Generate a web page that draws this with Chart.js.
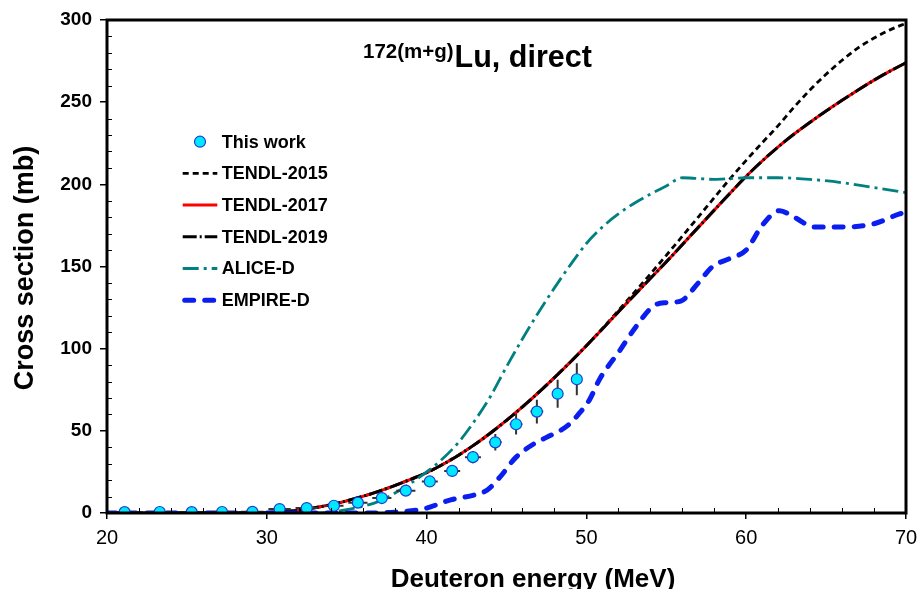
<!DOCTYPE html>
<html><head><meta charset="utf-8">
<style>html,body{margin:0;padding:0;background:#fff;} canvas{display:block;}</style>
<script src="https://cdn.jsdelivr.net/npm/chart.js@4.4.1/dist/chart.umd.min.js"></script>
</head><body>
<canvas id="c" width="917" height="589"></canvas>
<script>
// ---- Data ----
const expEnergy    = [21.1,23.3,25.3,27.2,29.1,30.8,32.5,34.2,35.7,37.2,38.7,40.2,41.6,42.9,44.3,45.6,46.9,48.2,49.4];
const expXS        = [0.5,0.6,0.5,0.6,0.7,2.4,3.0,4.4,6.3,9.1,13.6,19.2,25.6,34,43,54,61.7,72.6,81.4];
const expXSErr     = [0.3,0.3,0.3,0.3,0.3,0.5,0.6,0.8,1.0,1.3,1.7,2.2,3.0,3.8,5.0,6.2,7.2,8.5,9.7];
const expEnergyErr = [0.9,0.9,0.8,0.8,0.7,0.7,0.7,0.6,0.6,0.6,0.6,0.5,0.5,0.5,0.4,0.4,0.4,0.3,0.3];

const tendlEnergy = [20,21,22,23,24,25,26,27,28,29,30,31,32,33,34,35,36,37,38,39,40,41,42,43,44,45,46,47,48,49,50,51,52,53,54,55,56,57,58,59,60,61,62,63,64,65,66,67,68,69,70];
const tendl2017 = [0,0,0,0,0,0,0,0,0,0.1,0.3,0.8,1.6,3.2,5.0,7.4,10.1,13.2,16.7,20.5,24.5,29.5,35.2,41.6,48.7,56.4,64.6,73.3,82.4,91.9,101.8,112,122.4,132.6,142.7,152.8,163.3,173.8,184.3,194.7,204.9,214.2,222.8,230.6,237.8,244.6,251.1,257.4,263.4,268.9,274];
const tendl2019 = [0,0,0,0,0,0,0,0,0,0.1,0.3,0.8,1.6,3.2,5.0,7.4,10.1,13.2,16.7,20.5,24.5,29.5,35.2,41.6,48.7,56.4,64.6,73.3,82.4,91.9,101.8,112,122.4,132.6,142.7,152.8,163.3,173.8,184.3,194.7,204.9,214.2,222.8,230.6,237.8,244.6,251.1,257.4,263.4,268.9,274];
const tendl2015 = [0,0,0,0,0,0,0,0,0,0.1,0.3,0.8,1.6,3.2,5.0,7.4,10.1,13.2,16.7,20.5,24.5,29.5,35.2,41.6,48.7,56.4,64.6,73.3,82.4,91.9,101.8,112.3,123.2,134.2,145.4,156.8,168.4,180.1,191.9,203.5,214.6,225.3,235.7,247,257.5,267,275.5,283,289,294,298];

const aliceEnergy = [20,30,33,34,35,36,37,38,39,40,41,42,43,44,45,46,47,48,49,50,51,52,53,54,55,56,57,58,59,60,62,64,66,68,70];
const aliceXS     = [0,0,0,0.5,2,4,7,12,18,25,33,43,56,71,89,106,122,137,151,164,174,182,188.5,194,199,204,203.5,203,203.5,204,204,203,201,198,195];

const empireEnergy = [20,36,38,39.4,40,41.5,43,43.8,44.6,45.6,46.7,47.5,48.8,49.5,50.2,50.8,52.1,53,54.2,55,55.9,57,57.9,59,60,61,62.1,63,64.3,66,68,69.6,70];
const empireXS     = [0,0,0.5,1.8,3,8,11,14,22,34,42,46,53,60,69,81,99,112,126,128,129,140,150,155,160,175,184,180,174,174,176,182,183];

const xTicks = [20,30,40,50,60,70];
const yTicks = [0,50,100,150,200,250,300];
const seriesNames = ['This work','TENDL-2015','TENDL-2017','TENDL-2019','ALICE-D','EMPIRE-D'];

const pts = (xs, ys) => xs.map((v,i)=>({x:v, y:ys[i]}));
const FONT = '"Liberation Sans", Arial, Helvetica, sans-serif';

const datasets = [
  {label:seriesNames[0], data:pts(expEnergy,expXS), showLine:false, pointRadius:5.5, pointBorderWidth:1.2,
   pointBackgroundColor:'#00e8ff', pointBorderColor:'#1f3fd0', order:0},
  {label:seriesNames[1], data:pts(tendlEnergy,tendl2015), borderColor:'#000', borderWidth:2.8, borderDash:[6,4], pointRadius:0, order:5},
  {label:seriesNames[2], data:pts(tendlEnergy,tendl2017), borderColor:'#ff0000', borderWidth:3, borderDash:[], pointRadius:0, order:4},
  {label:seriesNames[3], data:pts(tendlEnergy,tendl2019), borderColor:'#000', borderWidth:3, borderDash:[14,3,2,3], pointRadius:0, order:3},
  {label:seriesNames[4], data:pts(aliceEnergy,aliceXS), borderColor:'#008080', borderWidth:2.8, borderDash:[16,5,3,5], pointRadius:0, order:2},
  {label:seriesNames[5], data:pts(empireEnergy,empireXS), borderColor:'#0a1ef0', borderWidth:5, borderDash:[9,11], borderCapStyle:'round', pointRadius:0, order:1},
];
datasets.forEach(d=>{ if(d.showLine!==false){ d.showLine=true; d.cubicInterpolationMode='monotone'; d.fill=false; }});

const decor = {
  id:'decor',
  beforeDatasetDraw(chart, args){
    if(args.index!==0) return;
    const {ctx, scales:{x,y}} = chart;
    ctx.save();
    ctx.strokeStyle='#333'; ctx.lineWidth=2;
    ctx.beginPath();
    expEnergy.forEach((e,i)=>{
      const px=x.getPixelForValue(e), py=y.getPixelForValue(expXS[i]);
      ctx.moveTo(px, y.getPixelForValue(expXS[i]-expXSErr[i]));
      ctx.lineTo(px, y.getPixelForValue(expXS[i]+expXSErr[i]));
      ctx.moveTo(x.getPixelForValue(e-expEnergyErr[i]), py);
      ctx.lineTo(x.getPixelForValue(e+expEnergyErr[i]), py);
    });
    ctx.stroke();
    ctx.restore();
  },
  afterDraw(chart){
    const {ctx, chartArea:a, scales:{x,y}} = chart;
    ctx.save();
    // minor ticks inward
    ctx.strokeStyle='#000'; ctx.lineWidth=1;
    ctx.beginPath();
    for(let v=10; v<300; v+=10){ if(v%50===0) continue; const py=Math.round(y.getPixelForValue(v))+0.5; ctx.moveTo(a.left,py); ctx.lineTo(a.left+5,py); }
    for(let v=22; v<70; v+=2){ if(v%10===0) continue; const px=Math.round(x.getPixelForValue(v))+0.5; ctx.moveTo(px,a.bottom); ctx.lineTo(px,a.bottom-5); }
    ctx.stroke();
    // frame
    ctx.lineWidth=3; ctx.strokeStyle='#000';
    ctx.strokeRect(a.left, a.top, a.right-a.left, a.bottom-a.top);
    // title
    ctx.fillStyle='#000'; ctx.textBaseline='alphabetic'; ctx.textAlign='left';
    ctx.font='bold 20.5px '+FONT;
    const sup='172(m+g)'; ctx.fillText(sup, 363, 58);
    const sw=ctx.measureText(sup).width;
    ctx.font='bold 30.5px '+FONT;
    ctx.fillText('Lu, direct', 363+sw+1, 67);
    // axis titles
    ctx.font='bold 26px '+FONT; ctx.textAlign='center';
    ctx.fillText('Deuteron energy (MeV)', 533, 587);
    ctx.save(); ctx.translate(33, 268); ctx.rotate(-Math.PI/2);
    ctx.font='bold 27px '+FONT; ctx.fillText('Cross section (mb)', 0, 0);
    ctx.restore();
    // legend
    const ly0=141.7, dy=31.7, sx0=182.7, sx1=217.3, tx=221.7;
    ctx.font='bold 18px '+FONT; ctx.textAlign='left'; ctx.textBaseline='middle';
    chart.data.datasets.forEach((d,i)=>{
      const ly=ly0+i*dy;
      if(d.showLine===false){
        ctx.beginPath(); ctx.arc(200, ly, d.pointRadius, 0, Math.PI*2);
        ctx.fillStyle=d.pointBackgroundColor; ctx.fill();
        ctx.lineWidth=d.pointBorderWidth; ctx.strokeStyle=d.pointBorderColor; ctx.stroke();
      } else {
        ctx.save(); ctx.beginPath();
        ctx.setLineDash(d.borderDash||[]); ctx.lineWidth=d.borderWidth; ctx.strokeStyle=d.borderColor;
        ctx.lineCap=d.borderCapStyle||'butt';
        ctx.moveTo(sx0+(d.borderCapStyle==='round'?2:0), ly); ctx.lineTo(sx1, ly); ctx.stroke();
        ctx.restore();
      }
      ctx.fillStyle='#000'; ctx.fillText(d.label, tx, ly+1);
    });
    ctx.restore();
  }
};

new Chart(document.getElementById('c'), {
  type:'line',
  data:{datasets},
  options:{
    responsive:false, animation:false, devicePixelRatio:1,
    layout:{padding:{left:0,right:11,top:20,bottom:0}},
    plugins:{legend:{display:false}, tooltip:{enabled:false}},
    scales:{
      x:{type:'linear', min:20, max:70,
         afterBuildTicks(s){ s.ticks = xTicks.map(v=>({value:v})); },
         afterFit(s){ s.height=76; s.paddingLeft=0; s.paddingRight=0; },
         ticks:{color:'#000', font:{family:FONT, size:20}, padding:7, maxRotation:0, autoSkip:false},
         grid:{drawOnChartArea:false, drawTicks:true, tickLength:6, color:'#000', lineWidth:1.5},
         border:{display:false}},
      y:{type:'linear', min:0, max:300,
         afterBuildTicks(s){ s.ticks = yTicks.map(v=>({value:v})); },
         afterFit(s){ s.width=107; s.paddingTop=0; s.paddingBottom=0; },
         ticks:{color:'#000', font:{family:FONT, size:19, weight:'bold'}, padding:8, autoSkip:false},
         grid:{drawOnChartArea:false, drawTicks:true, tickLength:7, color:'#000', lineWidth:1.5},
         border:{display:false}}
    }
  },
  plugins:[decor]
});
</script>
</body></html>
